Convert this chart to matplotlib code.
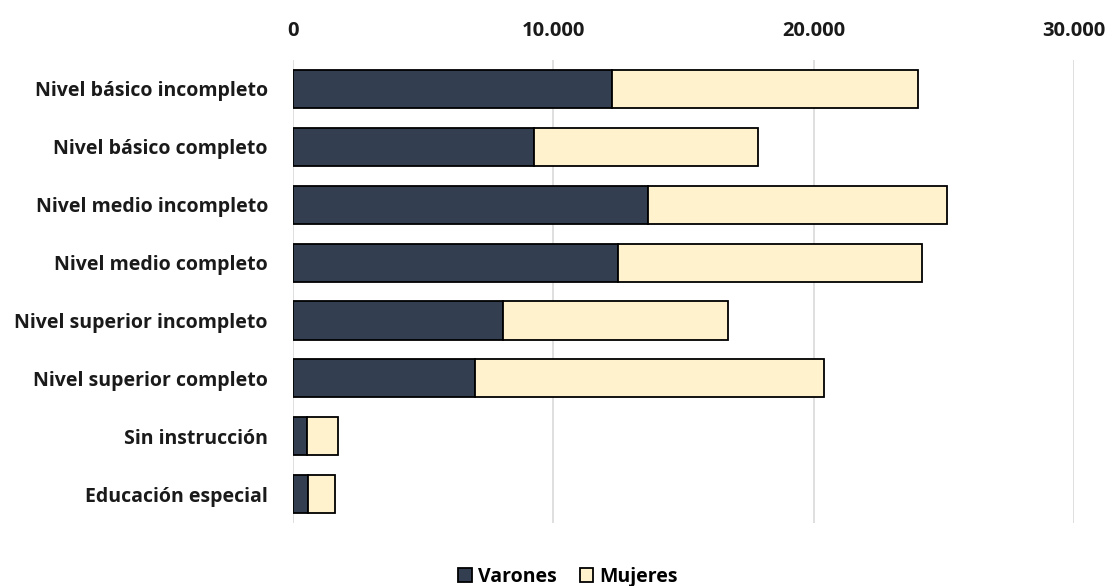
import numpy as np
import matplotlib.pyplot as plt
from matplotlib.ticker import FuncFormatter

# Población por nivel educativo y sexo
categorias = [
    "Nivel básico incompleto",
    "Nivel básico completo",
    "Nivel medio incompleto",
    "Nivel medio completo",
    "Nivel superior incompleto",
    "Nivel superior completo",
    "Sin instrucción",
    "Educación especial",
]
varones = [12250, 9240, 13630, 12470, 8080, 7010, 520, 590]
totales = [23990, 17850, 25140, 24150, 16700, 20390, 1740, 1610]
mujeres = [t - v for t, v in zip(totales, varones)]

color_varones = "#333F50"
color_mujeres = "#FFF2CC"

plt.rcParams["font.family"] = ["Open Sans", "DejaVu Sans"]
plt.rcParams["font.weight"] = "bold"

fig = plt.figure(figsize=(11.11, 5.86), dpi=100)
ax = fig.add_axes([0.2637, 0.1075, 0.703, 0.79])

y = np.arange(len(categorias))
ax.barh(y, varones, height=0.66, color=color_varones, edgecolor="black",
        linewidth=1.3, label="Varones", zorder=3)
ax.barh(y, mujeres, left=varones, height=0.66, color=color_mujeres,
        edgecolor="black", linewidth=1.3, label="Mujeres", zorder=3)

ax.set_xlim(0, 30000)
ax.set_ylim(len(categorias) - 0.5, -0.5)
ax.set_xticks([0, 10000, 20000, 30000])
ax.xaxis.set_major_formatter(FuncFormatter(lambda v, p: f"{int(v):,}".replace(",", ".")))
ax.xaxis.tick_top()
ax.set_yticks(y)
ax.set_yticklabels(categorias)
ax.tick_params(axis="y", length=0, labelsize=14, colors="#1a1a1a", pad=18)
ax.tick_params(axis="x", length=0, labelsize=14.5, colors="#1a1a1a", pad=14)

ax.grid(axis="x", color="#D9D9D9", linewidth=1.2, zorder=0)
for s in ax.spines.values():
    s.set_visible(False)

fig.legend(loc="center", bbox_to_anchor=(568 / 1111, 1 - 577 / 586), ncol=2,
           frameon=False, fontsize=14, handlelength=0.7, handleheight=0.7,
           handletextpad=0.3, columnspacing=1.2)

fig.savefig("out.png", dpi=100)
